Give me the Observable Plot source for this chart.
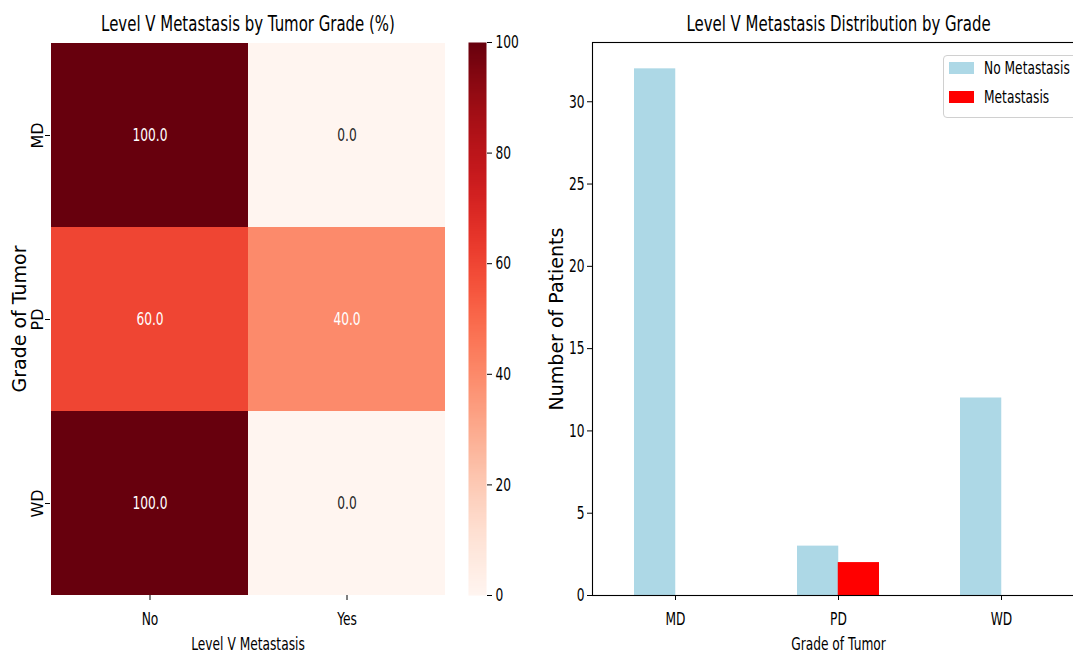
<!DOCTYPE html>
<html><head><meta charset="utf-8">
<script src="https://cdn.jsdelivr.net/npm/d3@7"></script>
<script src="https://cdn.jsdelivr.net/npm/@observablehq/plot@0.6"></script>
<style>
html,body{margin:0;padding:0;background:#fff;overflow:hidden}
#wrap{position:relative;width:1073px;height:654px;overflow:hidden;background:#fff;font-family:"DejaVu Sans"}
#wrap > svg{position:absolute;top:0;overflow:visible}
#legend{position:absolute;left:943px;top:55px;width:160px;height:61px;border:1px solid #d0d0d0;border-radius:4px;background:rgba(255,255,255,0.85);font-family:"DejaVu Sans";font-size:18px;color:#000}
#legend .sw{position:absolute;left:5px;width:25px;height:12px}
#legend .lb{position:absolute;left:40px;white-space:nowrap;transform:scaleX(0.68);transform-origin:left center;line-height:20px}
</style></head><body><div id="wrap"></div>
<script>
// ---- data ----
const grades = ["MD", "PD", "WD"];
const metCategories = ["No", "Yes"];
const pctNo = [100.0, 60.0, 100.0];
const pctYes = [0.0, 40.0, 0.0];
const countNo = [32, 3, 12];
const countMet = [0, 2, 0];
const seriesNames = ["No Metastasis", "Metastasis"];
const seriesColors = ["#add8e6", "#ff0000"];
const colorbarTicks = [0, 20, 40, 60, 80, 100];
const barTicks = [0, 5, 10, 15, 20, 25, 30];

const heatData = grades.flatMap((g, i) => [
  {grade: g, met: metCategories[0], value: pctNo[i]},
  {grade: g, met: metCategories[1], value: pctYes[i]}
]);
const barData = grades.map((g, i) => ({grade: g, no: countNo[i], met: countMet[i]}));

const baseStyle = {fontFamily: "DejaVu Sans", fontSize: "18px", color: "#000", background: "transparent"};
const wrap = document.getElementById("wrap");

// ---- heatmap ----
const heat = Plot.plot({
  width: 460, height: 654,
  marginLeft: 50, marginRight: 15, marginTop: 42, marginBottom: 59,
  style: baseStyle,
  x: {domain: metCategories, padding: 0, label: null},
  y: {domain: grades, padding: 0, label: null},
  color: {type: "linear", scheme: "reds", domain: [0, 100]},
  marks: [
    Plot.cell(heatData, {x: "met", y: "grade", fill: "value"}),
    Plot.text(heatData, {x: "met", y: "grade", filter: d => d.value >= 30, text: d => d.value.toFixed(1), fill: "white", fontSize: 18}),
    Plot.text(heatData, {x: "met", y: "grade", filter: d => d.value < 30, text: d => d.value.toFixed(1), fill: "#262626", fontSize: 18}),
    Plot.axisX({tickSize: 5, tickPadding: 12, label: null}),
    Plot.axisY({tickSize: 5, tickFormat: () => "", label: null}),
    Plot.text(grades, {y: d => d, text: d => d, frameAnchor: "left", textAnchor: "middle", lineAnchor: "middle", dx: -12.5, rotate: -90, fontSize: 16}),
    Plot.text(["Grade of Tumor"], {frameAnchor: "left", textAnchor: "middle", lineAnchor: "middle", dx: -31, rotate: -90, fontSize: 19}),
    Plot.text(["Level V Metastasis"], {frameAnchor: "bottom", lineAnchor: "middle", dy: 49, fontSize: 18}),
    Plot.text(["Level V Metastasis by Tumor Grade (%)"], {frameAnchor: "top", lineAnchor: "middle", dy: -19, fontSize: 22})
  ]
});
heat.style.left = "0px";
wrap.appendChild(heat);

// ---- colorbar ----
const cbar = Plot.plot({
  width: 80, height: 654,
  marginLeft: 0, marginRight: 62, marginTop: 42, marginBottom: 59,
  style: baseStyle,
  x: {domain: [0, 1], axis: null},
  y: {domain: [0, 100], label: null},
  color: {type: "linear", scheme: "reds", domain: [0, 100]},
  marks: [
    Plot.raster({fill: (x, y) => y, x1: 0, x2: 1, y1: 0, y2: 100, width: 1, height: 256}),
    Plot.axisY({anchor: "right", ticks: colorbarTicks, tickSize: 5, tickPadding: 4, label: null})
  ]
});
cbar.style.left = "468px";
wrap.appendChild(cbar);

// ---- grouped bar chart ----
const bar = Plot.plot({
  width: 560, height: 654,
  marginLeft: 52, marginRight: 16, marginTop: 42, marginBottom: 59,
  style: baseStyle,
  x: {domain: grades, paddingInner: 0.5, paddingOuter: 0.259, label: null},
  y: {domain: [0, 33.6], label: null},
  marks: [
    Plot.barY(barData, {x: "grade", y: "no", fill: seriesColors[0], insetRight: 40.75}),
    Plot.barY(barData, {x: "grade", y: "met", fill: seriesColors[1], insetLeft: 40.75}),
    Plot.frame({stroke: "#000", strokeWidth: 1.1}),
    Plot.axisX({tickSize: 5, tickPadding: 12, label: null}),
    Plot.axisY({ticks: barTicks, tickSize: 5, tickPadding: 3, label: null}),
    Plot.text(["Number of Patients"], {frameAnchor: "left", textAnchor: "middle", lineAnchor: "middle", dx: -36, rotate: -90, fontSize: 19}),
    Plot.text(["Grade of Tumor"], {frameAnchor: "bottom", lineAnchor: "middle", dy: 49, fontSize: 18}),
    Plot.text(["Level V Metastasis Distribution by Grade"], {frameAnchor: "top", lineAnchor: "middle", dy: -19, fontSize: 22})
  ]
});
bar.style.left = "540px";
wrap.appendChild(bar);

// ---- legend ----
const legend = document.createElement("div");
legend.id = "legend";
seriesNames.forEach((name, i) => {
  const sw = document.createElement("div");
  sw.className = "sw";
  sw.style.top = (6 + i * 29) + "px";
  sw.style.background = seriesColors[i];
  const lb = document.createElement("div");
  lb.className = "lb";
  lb.style.top = (2 + i * 29) + "px";
  lb.textContent = name;
  legend.appendChild(sw);
  legend.appendChild(lb);
});
wrap.appendChild(legend);

// ---- condense horizontal text around its anchor (the reference's lettering is narrow) ----
const SQ = 0.68;
function squeeze(svg) {
  svg.querySelectorAll("text").forEach(t => {
    const tr = t.getAttribute("transform") || "";
    if (tr.includes("rotate")) return;
    if (tr.includes("translate")) {
      t.setAttribute("transform", tr + ` scale(${SQ},1)`);
    } else {
      const x = +(t.getAttribute("x") || 0);
      t.setAttribute("transform", `translate(${x},0) scale(${SQ},1) translate(${-x},0)`);
    }
  });
}
[heat, cbar, bar].forEach(squeeze);
</script>
</body></html>
